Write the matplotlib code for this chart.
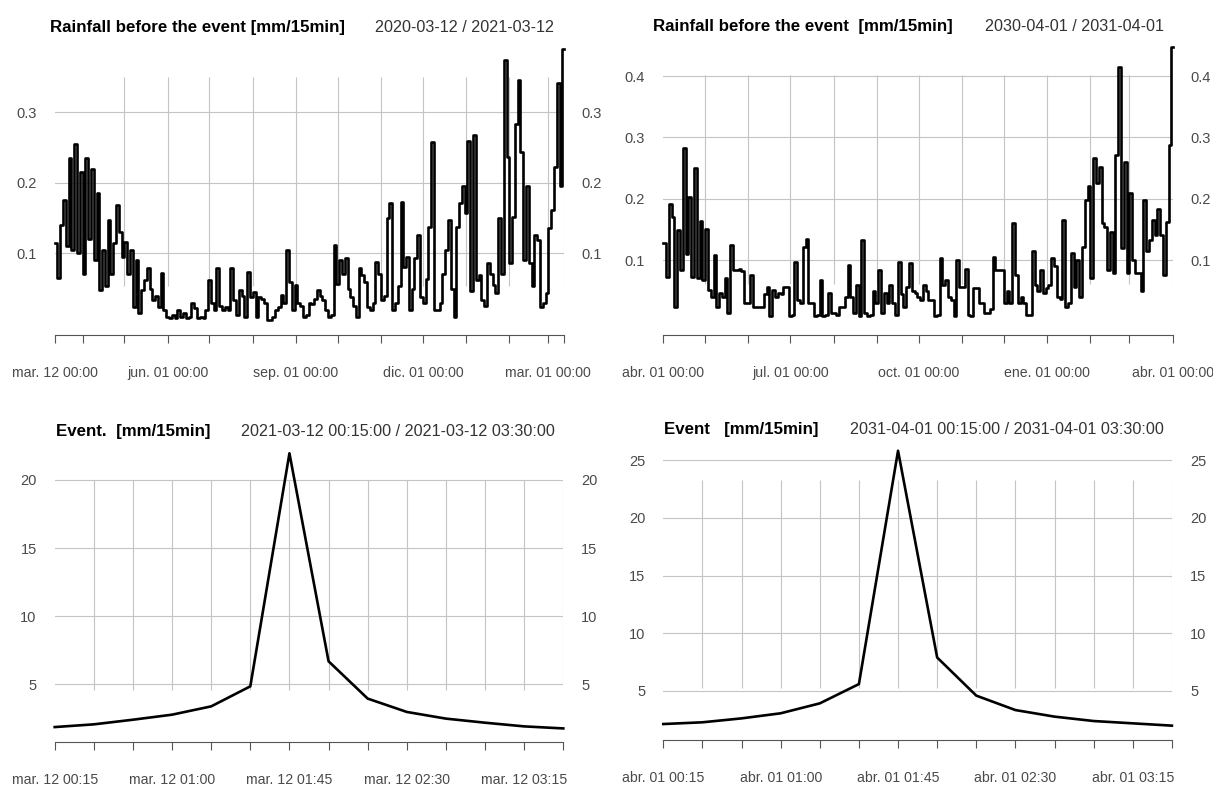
import numpy as np
import matplotlib

matplotlib.use("Agg")
import matplotlib.pyplot as plt
import matplotlib.dates as mdates
from matplotlib.ticker import FixedLocator, FixedFormatter, NullFormatter

plt.rcParams["font.family"] = ["Liberation Sans", "DejaVu Sans"]

W, H = 1213, 788

# ---- data ----
# rainfall before each event, one value every 2 days [mm/15min]
rain_a_start, rain_a_end = "2020-03-12", "2021-03-12"
rain_a = [
    0.115, 0.065, 0.14, 0.175, 0.11, 0.235, 0.105, 0.255, 0.10, 0.215,
    0.07, 0.235, 0.12, 0.22, 0.09, 0.185, 0.048, 0.105, 0.053, 0.147,
    0.07, 0.115, 0.168, 0.13, 0.095, 0.116, 0.07, 0.105, 0.024, 0.09,
    0.015, 0.048, 0.062, 0.079, 0.05, 0.034, 0.04, 0.024, 0.072, 0.02,
    0.01, 0.008, 0.012, 0.008, 0.02, 0.01, 0.015, 0.008, 0.01, 0.029,
    0.022, 0.008, 0.01, 0.008, 0.02, 0.062, 0.03, 0.02, 0.079, 0.025,
    0.02, 0.024, 0.02, 0.079, 0.034, 0.012, 0.048, 0.04, 0.01, 0.074,
    0.038, 0.045, 0.01, 0.038, 0.035, 0.03, 0.005, 0.006, 0.01, 0.02,
    0.024, 0.041, 0.03, 0.105, 0.06, 0.02, 0.055, 0.03, 0.025, 0.01,
    0.012, 0.03, 0.028, 0.035, 0.048, 0.04, 0.034, 0.02, 0.01, 0.012,
    0.112, 0.057, 0.09, 0.07, 0.093, 0.05, 0.038, 0.025, 0.01, 0.079,
    0.069, 0.06, 0.024, 0.02, 0.03, 0.088, 0.07, 0.034, 0.04, 0.15,
    0.171, 0.02, 0.03, 0.053, 0.173, 0.081, 0.095, 0.02, 0.05, 0.093,
    0.126, 0.038, 0.03, 0.064, 0.138, 0.258, 0.02, 0.02, 0.03, 0.071,
    0.105, 0.147, 0.05, 0.01, 0.138, 0.171, 0.195, 0.157, 0.26, 0.046,
    0.268, 0.062, 0.069, 0.034, 0.025, 0.086, 0.07, 0.055, 0.044, 0.15,
    0.07, 0.374, 0.237, 0.086, 0.152, 0.284, 0.346, 0.244, 0.09, 0.195,
    0.086, 0.053, 0.126, 0.119, 0.024, 0.03, 0.044, 0.136, 0.161, 0.223,
    0.341, 0.195, 0.39,
]
rain_b_start, rain_b_end = "2030-04-01", "2031-04-01"
rain_b = [
    0.127, 0.073, 0.192, 0.17, 0.024, 0.149, 0.084, 0.282, 0.11, 0.203,
    0.073, 0.25, 0.07, 0.163, 0.067, 0.15, 0.051, 0.04, 0.108, 0.024,
    0.046, 0.04, 0.07, 0.013, 0.125, 0.084, 0.084, 0.085, 0.082, 0.03,
    0.03, 0.075, 0.024, 0.024, 0.024, 0.024, 0.045, 0.056, 0.008, 0.051,
    0.04, 0.046, 0.045, 0.056, 0.056, 0.008, 0.01, 0.097, 0.035, 0.03,
    0.122, 0.135, 0.03, 0.03, 0.008, 0.01, 0.067, 0.008, 0.01, 0.046,
    0.013, 0.013, 0.01, 0.024, 0.024, 0.04, 0.092, 0.04, 0.013, 0.059,
    0.008, 0.133, 0.013, 0.008, 0.01, 0.05, 0.03, 0.084, 0.013, 0.046,
    0.03, 0.059, 0.03, 0.01, 0.097, 0.045, 0.024, 0.056, 0.095, 0.05,
    0.046, 0.04, 0.035, 0.059, 0.05, 0.035, 0.035, 0.008, 0.01, 0.103,
    0.06, 0.067, 0.04, 0.035, 0.008, 0.1, 0.056, 0.056, 0.086, 0.01,
    0.008, 0.054, 0.054, 0.03, 0.03, 0.013, 0.013, 0.02, 0.105, 0.084,
    0.084, 0.084, 0.03, 0.05, 0.03, 0.16, 0.076, 0.03, 0.04, 0.03,
    0.01, 0.01, 0.114, 0.06, 0.05, 0.084, 0.046, 0.054, 0.06, 0.103,
    0.09, 0.04, 0.037, 0.165, 0.024, 0.03, 0.111, 0.056, 0.1, 0.04,
    0.122, 0.198, 0.22, 0.07, 0.266, 0.225, 0.252, 0.16, 0.154, 0.084,
    0.146, 0.078, 0.271, 0.415, 0.12, 0.26, 0.078, 0.209, 0.1, 0.078,
    0.078, 0.05, 0.198, 0.115, 0.133, 0.165, 0.14, 0.184, 0.14, 0.075,
    0.162, 0.288, 0.448,
]
rain_step_days = 2

# events, one value every 15 minutes [mm/15min]
event_a_start = "2021-03-12T00:15"
event_a = [1.86, 2.06, 2.4, 2.77, 3.38, 4.85, 21.96, 6.69, 3.95, 2.97,
           2.48, 2.18, 1.91, 1.76]
event_b_start = "2031-04-01T00:15"
event_b = [2.14, 2.29, 2.63, 3.07, 3.93, 5.6, 25.8, 7.9, 4.6, 3.35,
           2.78, 2.4, 2.2, 2.0]
event_step_min = 15

rain_a_xlabels = ["mar. 12 00:00", "jun. 01 00:00", "sep. 01 00:00",
                  "dic. 01 00:00", "mar. 01 00:00"]
rain_b_xlabels = ["abr. 01 00:00", "jul. 01 00:00", "oct. 01 00:00",
                  "ene. 01 00:00", "abr. 01 00:00"]
event_a_xlabels = ["mar. 12 00:15", "mar. 12 01:00", "mar. 12 01:45",
                   "mar. 12 02:30", "mar. 12 03:15"]
event_b_xlabels = ["abr. 01 00:15", "abr. 01 01:00", "abr. 01 01:45",
                   "abr. 01 02:30", "abr. 01 03:15"]

rain_a_yticks = [0.1, 0.2, 0.3]
rain_b_yticks = [0.1, 0.2, 0.3, 0.4]
event_a_yticks = [5, 10, 15, 20]
event_b_yticks = [5, 10, 15, 20, 25]

titles = {
    "a_rain": ("Rainfall before the event [mm/15min]", "2020-03-12 / 2021-03-12"),
    "b_rain": ("Rainfall before the event  [mm/15min]", "2030-04-01 / 2031-04-01"),
    "a_event": ("Event.  [mm/15min]", "2021-03-12 00:15:00 / 2021-03-12 03:30:00"),
    "b_event": ("Event   [mm/15min]", "2031-04-01 00:15:00 / 2031-04-01 03:30:00"),
}

GRID = "#c4c4c4"
AXIS = "#555555"
LABEL = "#4a4a4a"


def rain_series(start, end, values):
    t = np.datetime64(start) + np.arange(len(values)) * np.timedelta64(rain_step_days, "D")
    t = np.append(t, np.datetime64(end))
    v = np.append(values, values[-1])
    return mdates.date2num(t), v


def rain_ticks(start, end):
    months = np.arange(np.datetime64(start[:7], "M") + 1,
                       np.datetime64(end[:7], "M") + 1).astype("datetime64[D]")
    ticks = np.concatenate([[np.datetime64(start)], months, [np.datetime64(end)]])
    ticks = np.unique(ticks)
    return mdates.date2num(ticks)


def event_series(start, values):
    t = np.datetime64(start) + np.arange(len(values)) * np.timedelta64(event_step_min, "m")
    return mdates.date2num(t), np.asarray(values)


def make_axes(fig, x0, x1, ytop, ybot):
    return fig.add_axes([x0 / W, 1 - ybot / H, (x1 - x0) / W, (ybot - ytop) / H])


def style_panel(ax, x, y, ylim, yticks, ticks, labels, grid_ticks, grid_span, steps):
    ax.set_xlim(x[0], x[-1])
    ax.set_ylim(*ylim)
    for side in ["top", "left", "right"]:
        ax.spines[side].set_visible(False)
    ax.spines["bottom"].set_color(AXIS)
    ax.spines["bottom"].set_linewidth(0.8)

    ax.yaxis.set_major_locator(FixedLocator(yticks))
    ax.set_yticklabels([f"{t:g}" for t in yticks])
    ax.yaxis.grid(True, color=GRID, linewidth=0.8)
    ax.tick_params(axis="y", length=0, pad=13, labelleft=True, labelright=True,
                   labelsize=10.5, labelcolor=LABEL)

    major = [ticks[i] for i in range(0, len(ticks), 3)][: len(labels)]
    minor = [t for t in ticks if t not in major]
    ax.xaxis.set_major_locator(FixedLocator(major))
    ax.xaxis.set_major_formatter(FixedFormatter(labels))
    ax.xaxis.set_minor_locator(FixedLocator(minor))
    ax.xaxis.set_minor_formatter(NullFormatter())
    ax.tick_params(axis="x", which="both", direction="out", length=6, width=0.8,
                   color=AXIS, pad=16.5, labelsize=10.2, labelcolor=LABEL)

    ax.vlines(grid_ticks, grid_span[0], grid_span[1], color=GRID, linewidth=0.8, zorder=1)
    ax.set_axisbelow(True)
    ax.plot(x, y, color="black", linewidth=1.9, zorder=3,
            drawstyle="steps-post" if steps else "default", clip_on=False)


def put_title(fig, x_title, x_dates, baseline, key):
    title, dates = titles[key]
    fig.text(x_title / W, 1 - baseline / H, title, fontsize=12.2, fontweight="bold",
             color="black", va="baseline", ha="left")
    fig.text(x_dates / W, 1 - baseline / H, dates, fontsize=11.6,
             color="#333333", va="baseline", ha="left")


fig = plt.figure(figsize=(W / 100, H / 100), dpi=100)

# top left
ax = make_axes(fig, 54.7, 563.7, 40, 335)
x, y = rain_series(rain_a_start, rain_a_end, rain_a)
ticks = rain_ticks(rain_a_start, rain_a_end)
style_panel(ax, x, y, ((323.8 - 335) / 705, (323.8 - 40) / 705), rain_a_yticks,
            list(ticks), rain_a_xlabels, ticks[2:], (0.0536, 0.3505), True)
put_title(fig, 50, 375, 32, "a_rain")

# top right
ax = make_axes(fig, 663.3, 1172.7, 40, 335)
x, y = rain_series(rain_b_start, rain_b_end, rain_b)
ticks = rain_ticks(rain_b_start, rain_b_end)
style_panel(ax, x, y, ((321.3 - 335) / 613, (321.3 - 40) / 613), rain_b_yticks,
            list(ticks), rain_b_xlabels, ticks[1:], (0.0608, 0.401), True)
put_title(fig, 653, 985, 31, "b_rain")

# bottom left
ax = make_axes(fig, 54.7, 563.3, 445, 741.7)
x, y = event_series(event_a_start, event_a)
style_panel(ax, x, y, ((752.4 - 741.7) / 13.62, (752.4 - 445) / 13.62), event_a_yticks,
            list(x), event_a_xlabels, x[1:], (4.58, 20.0), False)
put_title(fig, 55.5, 241, 436, "a_event")

# bottom right
ax = make_axes(fig, 663.3, 1171.9, 445, 740)
x, y = event_series(event_b_start, event_b)
style_panel(ax, x, y, ((748.75 - 740) / 11.55, (748.75 - 445) / 11.55), event_b_yticks,
            list(x), event_b_xlabels, x[1:], (5.26, 23.27), False)
put_title(fig, 664.5, 850, 434, "b_event")

fig.savefig("out.png", dpi=100)
